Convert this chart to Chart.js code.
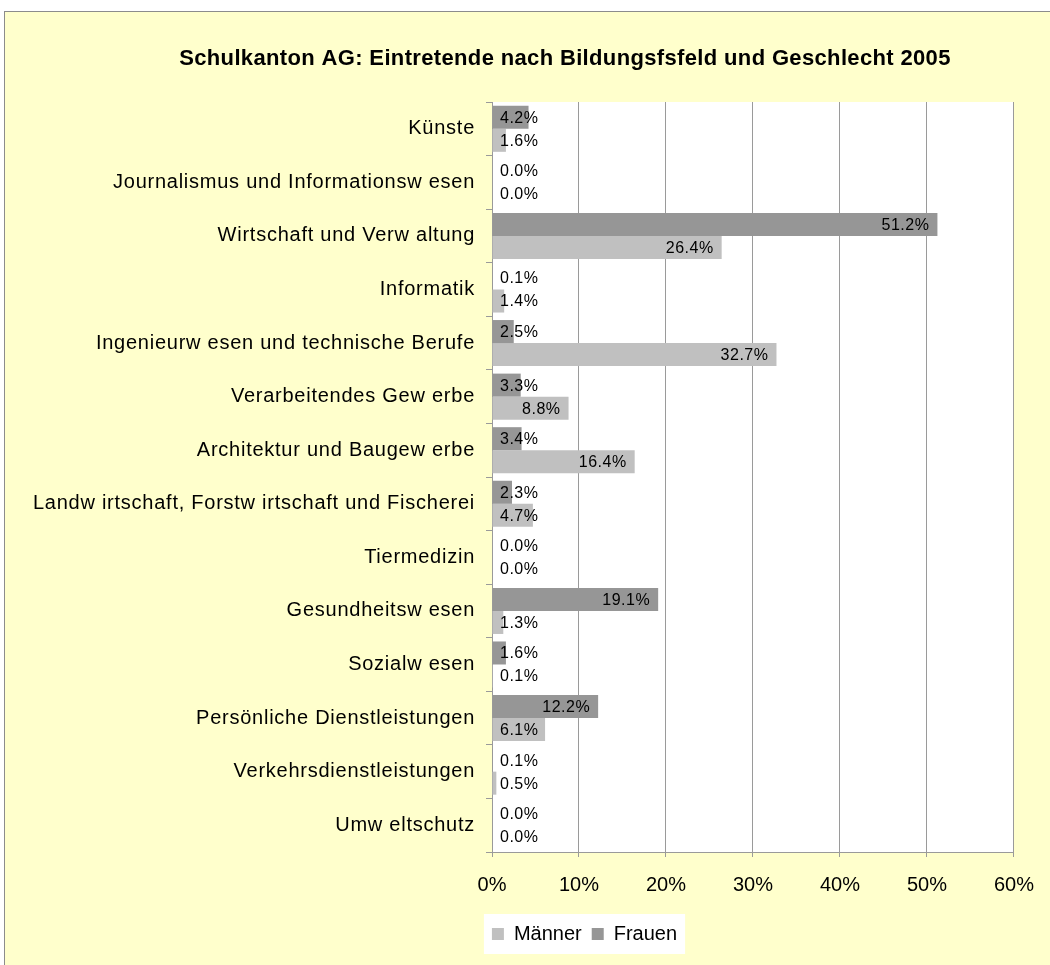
<!DOCTYPE html>
<html>
<head>
<meta charset="utf-8">
<script src="https://cdn.jsdelivr.net/npm/chart.js@4"></script>
<style>
  body { margin: 0; background: #fff; }
  #frame {
    position: absolute; left: 4px; top: 11px;
    width: 1046px; height: 954px;
    background: #ffffcc;
    border-left: 1px solid #8c8c8c; border-top: 1px solid #8c8c8c;
  }
  canvas { display: block; }
</style>
</head>
<body>
<div id="frame"><canvas id="chart" width="1045" height="953"></canvas></div>
<script>
const chartTitle = 'Schulkanton AG: Eintretende nach Bildungsfsfeld und Geschlecht 2005';

const fields = [
  'Künste',
  'Journalismus und Informationsw esen',
  'Wirtschaft und Verw altung',
  'Informatik',
  'Ingenieurw esen und technische Berufe',
  'Verarbeitendes Gew erbe',
  'Architektur und Baugew erbe',
  'Landw irtschaft, Forstw irtschaft und Fischerei',
  'Tiermedizin',
  'Gesundheitsw esen',
  'Sozialw esen',
  'Persönliche Dienstleistungen',
  'Verkehrsdienstleistungen',
  'Umw eltschutz'
];

const frauen = [4.2, 0.0, 51.2, 0.1, 2.5, 3.3, 3.4, 2.3, 0.0, 19.1, 1.6, 12.2, 0.1, 0.0];
const maenner = [1.6, 0.0, 26.4, 1.4, 32.7, 8.8, 16.4, 4.7, 0.0, 1.3, 0.1, 6.1, 0.5, 0.0];

const xTicks = [0, 10, 20, 30, 40, 50, 60];

const fontFamily = "'Liberation Sans', Arial, sans-serif";
const gridGray = '#9a9a9a';
const legendShift = 74;

// white plot area + white legend box
const backgrounds = {
  id: 'backgrounds',
  beforeDraw(chart) {
    const { ctx, chartArea } = chart;
    ctx.save();
    ctx.fillStyle = '#ffffff';
    ctx.fillRect(chartArea.left, chartArea.top, chartArea.right - chartArea.left, chartArea.bottom - chartArea.top);
    const boxes = chart.legend.legendHitBoxes;
    if (boxes && boxes.length) {
      const left = Math.min(...boxes.map(b => b.left)) - 8;
      const right = Math.max(...boxes.map(b => b.left + b.width)) + 8;
      const top = Math.min(...boxes.map(b => b.top)) - 10;
      const bottom = Math.max(...boxes.map(b => b.top + b.height)) + 10;
      ctx.fillRect(left, top, right - left, bottom - top);
    }
    ctx.restore();
  }
};

// move legend to the right, and space out the category labels a bit
const tweaks = {
  id: 'tweaks',
  afterLayout(chart) {
    const lg = chart.legend;
    lg.left += legendShift;
    lg.right += legendShift;
    lg.legendHitBoxes.forEach(b => { b.left += legendShift; });

    const y = chart.scales.y;
    if (!y._spaced) {
      const orig = y.drawLabels;
      y.drawLabels = function(area) {
        const prev = this.ctx.letterSpacing;
        this.ctx.letterSpacing = '0.75px';
        orig.call(this, area);
        this.ctx.letterSpacing = prev;
      };
      y._spaced = true;
    }
  }
};

const titleText = {
  id: 'titleText',
  afterDraw(chart) {
    const ctx = chart.ctx;
    ctx.save();
    ctx.font = 'bold 22px ' + fontFamily;
    ctx.letterSpacing = '0.35px';
    ctx.fillStyle = '#000';
    ctx.textAlign = 'center';
    ctx.textBaseline = 'middle';
    ctx.fillText(chartTitle, 560, 47);
    ctx.restore();
  }
};

// value labels, inside the bar end but never left of the axis
const valueLabels = {
  id: 'valueLabels',
  afterDatasetsDraw(chart) {
    const ctx = chart.ctx;
    const axisLeft = chart.chartArea.left;
    ctx.save();
    ctx.font = '16px ' + fontFamily;
    ctx.letterSpacing = '0.5px';
    ctx.fillStyle = '#000';
    ctx.textBaseline = 'middle';
    ctx.textAlign = 'left';
    chart.data.datasets.forEach((ds, i) => {
      const meta = chart.getDatasetMeta(i);
      meta.data.forEach((bar, j) => {
        const text = ds.data[j].toFixed(1) + '%';
        const w = ctx.measureText(text).width;
        const x = Math.max(bar.x - 8 - w, axisLeft + 8);
        ctx.fillText(text, x, bar.y + 1);
      });
    });
    ctx.restore();
  }
};

new Chart(document.getElementById('chart'), {
  type: 'bar',
  data: {
    labels: fields,
    datasets: [
      {
        label: 'Frauen',
        data: frauen,
        backgroundColor: '#969696',
        categoryPercentage: 0.86,
        barPercentage: 1.0
      },
      {
        label: 'Männer',
        data: maenner,
        backgroundColor: '#c0c0c0',
        categoryPercentage: 0.86,
        barPercentage: 1.0
      }
    ]
  },
  options: {
    indexAxis: 'y',
    responsive: false,
    animation: false,
    layout: {
      padding: { top: 90, right: 34, left: 0, bottom: 11 }
    },
    plugins: {
      title: { display: false },
      tooltip: { enabled: false },
      legend: {
        position: 'bottom',
        reverse: true,
        labels: {
          boxWidth: 12,
          boxHeight: 12,
          padding: 10,
          color: '#000',
          font: { family: fontFamily, size: 20 }
        }
      }
    },
    scales: {
      x: {
        min: 0,
        max: 60,
        afterBuildTicks(scale) {
          scale.ticks = xTicks.map(v => ({ value: v }));
        },
        afterFit(scale) {
          scale.height = 62;
        },
        grid: {
          color: gridGray,
          lineWidth: 1,
          tickLength: 5,
          drawTicks: true
        },
        border: { display: true, color: gridGray },
        ticks: {
          padding: 16,
          color: '#000',
          font: { family: fontFamily, size: 20 },
          callback: v => v + '%'
        }
      },
      y: {
        afterFit(scale) {
          scale.width = 487;
        },
        grid: {
          offset: true,
          drawOnChartArea: false,
          drawTicks: true,
          tickLength: 6,
          color: gridGray
        },
        border: { display: true, color: gridGray },
        ticks: {
          padding: 11,
          color: '#000',
          autoSkip: false,
          font: { family: fontFamily, size: 20 }
        }
      }
    }
  },
  plugins: [backgrounds, tweaks, titleText, valueLabels]
});
</script>
</body>
</html>
